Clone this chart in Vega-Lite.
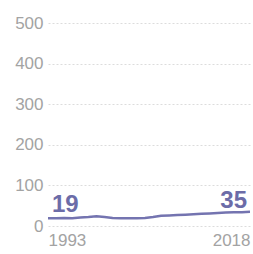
{
  "$schema": "https://vega.github.io/schema/vega-lite/v6.json",
  "autosize": "none",
  "width": 202,
  "height": 203,
  "padding": {"left": 48, "top": 23, "right": 3, "bottom": 28},
  "background": "white",
  "config": {"view": {"stroke": null}, "font": "Liberation Sans"},
  "data": {"values": [
    {"year": 1993, "value": 19}, {"year": 1994, "value": 19}, {"year": 1995, "value": 20},
    {"year": 1996, "value": 19}, {"year": 1997, "value": 21}, {"year": 1998, "value": 22},
    {"year": 1999, "value": 24}, {"year": 2000, "value": 22}, {"year": 2001, "value": 20},
    {"year": 2002, "value": 19}, {"year": 2003, "value": 19}, {"year": 2004, "value": 19},
    {"year": 2005, "value": 20}, {"year": 2006, "value": 22}, {"year": 2007, "value": 25},
    {"year": 2008, "value": 26}, {"year": 2009, "value": 27}, {"year": 2010, "value": 28},
    {"year": 2011, "value": 29}, {"year": 2012, "value": 30}, {"year": 2013, "value": 31},
    {"year": 2014, "value": 32}, {"year": 2015, "value": 33}, {"year": 2016, "value": 34},
    {"year": 2017, "value": 34}, {"year": 2018, "value": 35}
  ]},
  "encoding": {
    "x": {"field": "year", "type": "quantitative",
      "scale": {"domain": [1993, 2018], "zero": false, "nice": false},
      "axis": {"values": [1993, 2018], "format": "d", "title": null, "domain": false, "ticks": false,
        "grid": false, "labelFlush": true, "labelPadding": 6, "labelFontSize": 17, "labelColor": "#a3a3a3", "labelFont": "Liberation Sans"}},
    "y": {"field": "value", "type": "quantitative",
      "scale": {"domain": [0, 500], "nice": false},
      "axis": {"values": [0, 100, 200, 300, 400, 500], "title": null, "domain": false, "ticks": false,
        "grid": true, "gridDash": [2, 2], "gridColor": "#dcdcdc", "gridWidth": 1,
        "labelPadding": 5, "labelFontSize": 17, "labelColor": "#a3a3a3", "labelFont": "Liberation Sans"}}
  },
  "layer": [
    {"mark": {"type": "line", "color": "#7474b0", "strokeWidth": 2.5}},
    {"transform": [{"filter": "datum.year == 1993"}],
     "mark": {"type": "text", "align": "left", "baseline": "alphabetic", "dx": 4, "dy": -6, "fontSize": 24, "fontWeight": "bold", "color": "#6c6ca8", "font": "Liberation Sans"},
     "encoding": {"text": {"field": "value", "type": "quantitative"}}},
    {"transform": [{"filter": "datum.year == 2018"}],
     "mark": {"type": "text", "align": "right", "baseline": "alphabetic", "dx": -3, "dy": -4, "fontSize": 24, "fontWeight": "bold", "color": "#6c6ca8", "font": "Liberation Sans"},
     "encoding": {"text": {"field": "value", "type": "quantitative"}}}
  ]
}
